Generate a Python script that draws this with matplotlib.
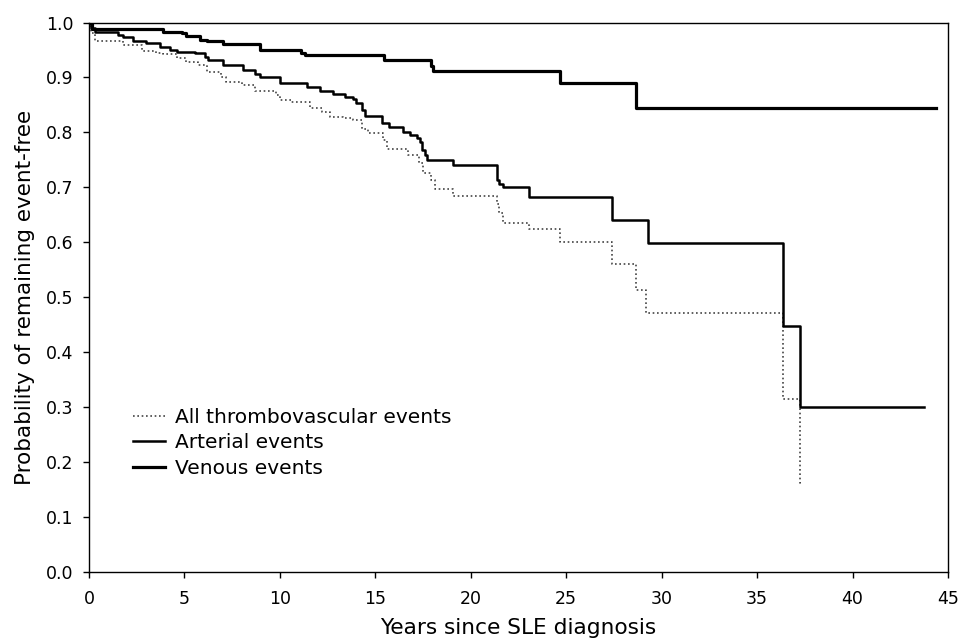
import matplotlib
matplotlib.use("Agg")
import matplotlib.pyplot as plt
from matplotlib.lines import Line2D

# ---- data ----
venous_t = [0, 0.15, 3.9, 4.85, 5.1, 5.8, 6.2, 7.0, 8.96, 11.1, 11.3, 15.47, 17.9, 18.0,
            24.66, 28.64, 44.36]
venous_s = [1.0, 0.988, 0.983, 0.980, 0.976, 0.969, 0.966, 0.961, 0.950, 0.944, 0.940,
            0.932, 0.920, 0.912, 0.889, 0.844, 0.844]

arterial_t = [0, 0.1, 0.3, 1.54, 1.8, 2.3, 3.0, 3.7, 4.24, 4.6, 5.55, 6.08, 6.25, 7.0, 8.08,
              8.7, 8.96, 10.0, 11.4, 12.1, 12.8, 13.4, 13.85, 14.0, 14.3, 14.46, 15.33, 15.7,
              16.43, 16.8, 17.16, 17.34, 17.45, 17.6, 17.69, 19.08, 21.36, 21.5, 21.7, 23.05,
              27.38, 29.27, 36.37, 37.25, 43.76]
arterial_s = [1.0, 0.990, 0.982, 0.977, 0.974, 0.967, 0.962, 0.956, 0.950, 0.947, 0.945,
              0.938, 0.932, 0.923, 0.914, 0.906, 0.901, 0.889, 0.882, 0.876, 0.870, 0.864,
              0.861, 0.853, 0.841, 0.830, 0.8165, 0.810, 0.801, 0.795, 0.789, 0.783, 0.768,
              0.759, 0.750, 0.741, 0.713, 0.706, 0.700, 0.682, 0.641, 0.598, 0.448, 0.301,
              0.301]

all_t = [0, 0.1, 0.3, 1.8, 2.8, 3.5, 3.9, 4.6, 5.1, 5.7, 6.2, 6.9, 7.2, 8.0, 8.7, 9.8, 10.0,
         10.6, 11.6, 12.2, 12.6, 13.3, 13.85, 14.3, 14.6, 15.4, 15.6, 16.7, 17.3, 17.5, 17.9,
         18.1, 19.05, 21.36, 21.5, 21.7, 23.05, 24.67, 27.38, 28.65, 29.2, 36.37, 37.25, 37.3]
all_s = [1.0, 0.980, 0.967, 0.959, 0.948, 0.945, 0.942, 0.936, 0.928, 0.922, 0.910, 0.901,
         0.892, 0.886, 0.875, 0.868, 0.859, 0.855, 0.844, 0.837, 0.828, 0.826, 0.823, 0.806,
         0.799, 0.786, 0.770, 0.759, 0.744, 0.727, 0.713, 0.697, 0.684, 0.670, 0.653, 0.635,
         0.625, 0.600, 0.560, 0.513, 0.471, 0.315, 0.162, 0.162]

labels = ["All thrombovascular events", "Arterial events", "Venous events"]
xticks = [0, 5, 10, 15, 20, 25, 30, 35, 40, 45]
yticks = [0.0, 0.1, 0.2, 0.3, 0.4, 0.5, 0.6, 0.7, 0.8, 0.9, 1.0]

plt.rcParams['font.family'] = ['DejaVu Sans']

fig = plt.figure(figsize=(9.61, 6.41), dpi=100)
ax = fig.add_axes([89/961, 1 - 572/641, (948-89)/961, (572-22.5)/641])

all_style = dict(color="#444444", lw=1.2, linestyle=(0, (1, 1.6)))
art_style = dict(color="black", lw=1.8)
ven_style = dict(color="black", lw=2.3)

ax.step(all_t, all_s, where="post", **all_style)
ax.step(arterial_t, arterial_s, where="post", **art_style)
ax.step(venous_t, venous_s, where="post", **ven_style)

ax.set_xlim(0, 45)
ax.set_ylim(0, 1.0)
ax.set_xticks(xticks)
ax.set_xticklabels([str(v) for v in xticks])
ax.set_yticks(yticks)
ax.set_yticklabels([f"{v:.1f}" for v in yticks])
ax.tick_params(axis="both", direction="out", length=4, width=1, labelsize=12.5)
ax.tick_params(axis="x", pad=9)
ax.tick_params(axis="y", pad=7)
for sp in ax.spines.values():
    sp.set_linewidth(1.0)
    sp.set_color("black")

ax.set_xlabel("Years since SLE diagnosis", fontsize=15.6, labelpad=7)
ax.set_ylabel("Probability of remaining event-free", fontsize=15.5, labelpad=8)

handles = [Line2D([], [], **all_style), Line2D([], [], **art_style), Line2D([], [], **ven_style)]
leg = ax.legend(handles, labels, loc="upper left", bbox_to_anchor=(0.0512, 0.299),
                frameon=False, fontsize=14.5, handlelength=1.6, handletextpad=0.5,
                labelspacing=0.32, borderpad=0, borderaxespad=0)

fig.savefig("out.png", dpi=100)
